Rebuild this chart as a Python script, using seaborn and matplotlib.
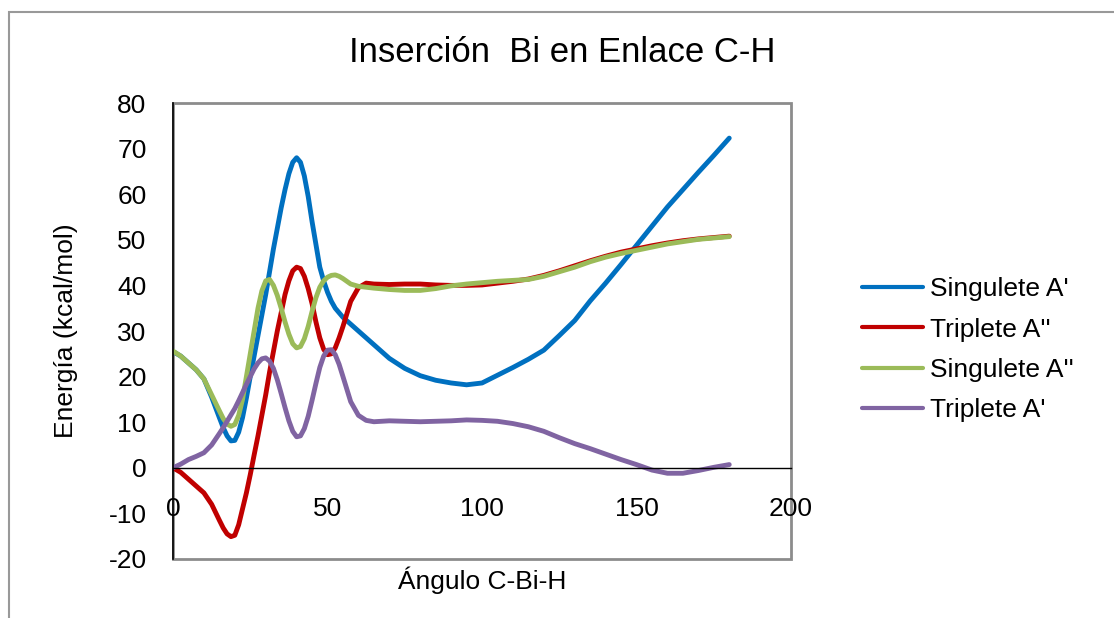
import pandas as pd
import seaborn as sns
import matplotlib
matplotlib.use("Agg")
import matplotlib.pyplot as plt
from matplotlib.patches import Rectangle

# angle values (deg), denser where the curves bend sharply
angulo = [0, 2.5, 5, 7.5, 10, 12.5,
          15, 16.25, 17.5, 18.75, 20, 21.25, 22.5, 23.75, 25, 26.25, 27.5, 28.75,
          30, 31.25, 32.5, 33.75, 35, 36.25, 37.5, 38.75, 40, 41.25, 42.5, 43.75,
          45, 46.25, 47.5, 48.75, 50, 51.25, 52.5, 53.75, 55,
          57.5, 60, 62.5, 65,
          70, 75, 80, 85, 90, 95, 100, 105, 110, 115, 120, 125, 130, 135, 140,
          145, 150, 155, 160, 165, 170, 175, 180]

singulete_a1 = [25.5, 24.5, 23.0, 21.5, 19.5, 15.5,
                11.0, 8.8, 7.0, 5.9, 6.0, 7.8, 11.0, 15.3, 20.0, 24.5, 29.0, 33.5,
                38.0, 43.0, 48.0, 52.5, 57.0, 61.0, 64.5, 67.0, 68.0, 67.0, 64.0, 59.5,
                54.0, 49.0, 44.0, 41.0, 38.5, 36.5, 35.0, 34.0, 33.0,
                31.5, 30.0, 28.5, 27.0,
                24.0, 21.8, 20.2, 19.2, 18.6, 18.2, 18.6, 20.3, 22.0, 23.8, 25.8, 29.0,
                32.3, 36.6, 40.5, 44.6, 48.8, 53.0, 57.2, 61.0, 64.8, 68.5, 72.3]

triplete_a2 = [0.0, -1.0, -2.5, -4.0, -5.5, -8.0,
               -11.5, -13.2, -14.5, -15.1, -14.8, -12.5, -9.0, -5.5, -1.5, 2.8, 7.0, 11.5,
               16.0, 21.0, 25.5, 30.0, 34.0, 38.0, 41.0, 43.2, 44.0, 43.7, 42.0, 39.3,
               36.0, 32.0, 28.5, 26.0, 24.8, 25.0, 26.3, 28.5, 31.0,
               36.5, 39.5, 40.5, 40.3,
               40.2, 40.3, 40.3, 40.1, 40.0, 40.0, 40.1, 40.5, 40.9, 41.4, 42.2, 43.2,
               44.3, 45.4, 46.4, 47.3, 48.0, 48.7, 49.3, 49.8, 50.2, 50.5, 50.8]

singulete_a2 = [25.6, 24.5, 23.0, 21.5, 19.5, 16.0,
                12.5, 10.8, 9.6, 9.1, 9.5, 11.5, 15.0, 20.0, 25.0, 30.0, 35.0, 38.8,
                41.0, 41.3, 40.0, 37.8, 35.0, 32.0, 29.3, 27.2, 26.3, 26.6, 28.3, 31.0,
                34.3, 37.3, 39.6, 41.0, 41.8, 42.2, 42.3, 42.0, 41.5,
                40.3, 39.8, 39.6, 39.4,
                39.1, 38.9, 38.9, 39.3, 39.9, 40.3, 40.6, 40.9, 41.1, 41.3, 42.0, 43.0,
                44.0, 45.2, 46.2, 47.0, 47.7, 48.4, 49.1, 49.6, 50.1, 50.4, 50.7]

triplete_a1 = [0.0, 0.8, 1.8, 2.5, 3.3, 5.0,
               7.5, 8.8, 10.2, 11.6, 13.0, 14.7, 16.5, 18.3, 20.0, 21.7, 23.0, 23.9,
               24.1, 23.4, 21.8, 19.3, 16.3, 13.2, 10.3, 8.0, 6.8, 7.0, 8.6, 11.3,
               14.8, 18.5, 22.0, 24.5, 25.8, 25.9, 24.8, 22.7, 20.0,
               14.5, 11.5, 10.4, 10.1,
               10.3, 10.2, 10.1, 10.2, 10.3, 10.5, 10.4, 10.2, 9.7, 9.0, 8.0, 6.6,
               5.3, 4.2, 3.0, 1.8, 0.7, -0.5, -1.2, -1.2, -0.6, 0.1, 0.7]

series_names = ["Singulete A'", "Triplete A''", "Singulete A''", "Triplete A'"]
colores = ["#0070C0", "#C00000", "#9BBB59", "#8064A2"]

frames = []
for name, vals in zip(series_names,
                      [singulete_a1, triplete_a2, singulete_a2, triplete_a1]):
    frames.append(pd.DataFrame({"angulo": angulo, "energia": vals, "serie": name}))
df = pd.concat(frames, ignore_index=True)

sns.set_style("white")
plt.rcParams["font.family"] = ["Liberation Sans", "DejaVu Sans"]
plt.rcParams["axes.unicode_minus"] = False
for key in ["text.color", "axes.labelcolor", "xtick.color", "ytick.color"]:
    plt.rcParams[key] = "black"

fig = plt.figure(figsize=(11.14, 6.18), dpi=100)
ax = fig.add_axes([0.1553, 0.0955, 0.5548, 0.7378])

sns.lineplot(data=df, x="angulo", y="energia", hue="serie", hue_order=series_names,
             palette=colores, estimator=None, sort=False, linewidth=3.5,
             solid_joinstyle="round", solid_capstyle="round", ax=ax)

ax.set_xlim(0, 200)
ax.set_ylim(-20, 80)
ax.set_xticks(range(0, 201, 50))
ax.set_yticks(range(-20, 81, 10))
ax.tick_params(axis="x", length=0, pad=21, labelsize=19)
ax.tick_params(axis="y", length=0, pad=19, labelsize=19)

# plot area border (grey) + black axes
for s in ["top", "right"]:
    ax.spines[s].set_visible(False)
ax.add_patch(Rectangle((0, 0), 1, 1, transform=ax.transAxes, fill=False,
                       edgecolor="#8c8c8c", lw=2, clip_on=False, zorder=0.5))
ax.spines["left"].set_color("black")
ax.spines["left"].set_linewidth(1.2)
ax.spines["left"].set_zorder(3)
ax.spines["bottom"].set_position(("data", 0))
ax.spines["bottom"].set_color("black")
ax.spines["bottom"].set_linewidth(1.0)

ax.set_xlabel("Ángulo C-Bi-H", fontsize=19)
ax.set_ylabel("Energía (kcal/mol)", fontsize=19)
ax.xaxis.set_label_coords(0.5, -0.046)
ax.xaxis.label.set_va("center")
ax.yaxis.set_label_coords(-0.173, 0.5)
ax.yaxis.label.set_va("center")

fig.text(0.505, 1 - 53 / 618, "Inserción  Bi en Enlace C-H", ha="center",
         va="center", fontsize=25)

handles, labels = ax.get_legend_handles_labels()
ax.legend(handles, labels, loc="center left", bbox_to_anchor=(0.774, 0.434),
          bbox_transform=fig.transFigure, frameon=False, fontsize=19,
          handlelength=2.3, handletextpad=0.25, labelspacing=0.62, borderpad=0,
          borderaxespad=0)
for line in ax.get_legend().get_lines():
    line.set_linewidth(3)

# outer chart frame
fig.add_artist(Rectangle((9 / 1114, -0.1), 1.2, 1.1 - 12 / 618, fill=False,
                         edgecolor="#999999", lw=1.5, transform=fig.transFigure,
                         clip_on=False))

fig.savefig("out.png", dpi=100)
